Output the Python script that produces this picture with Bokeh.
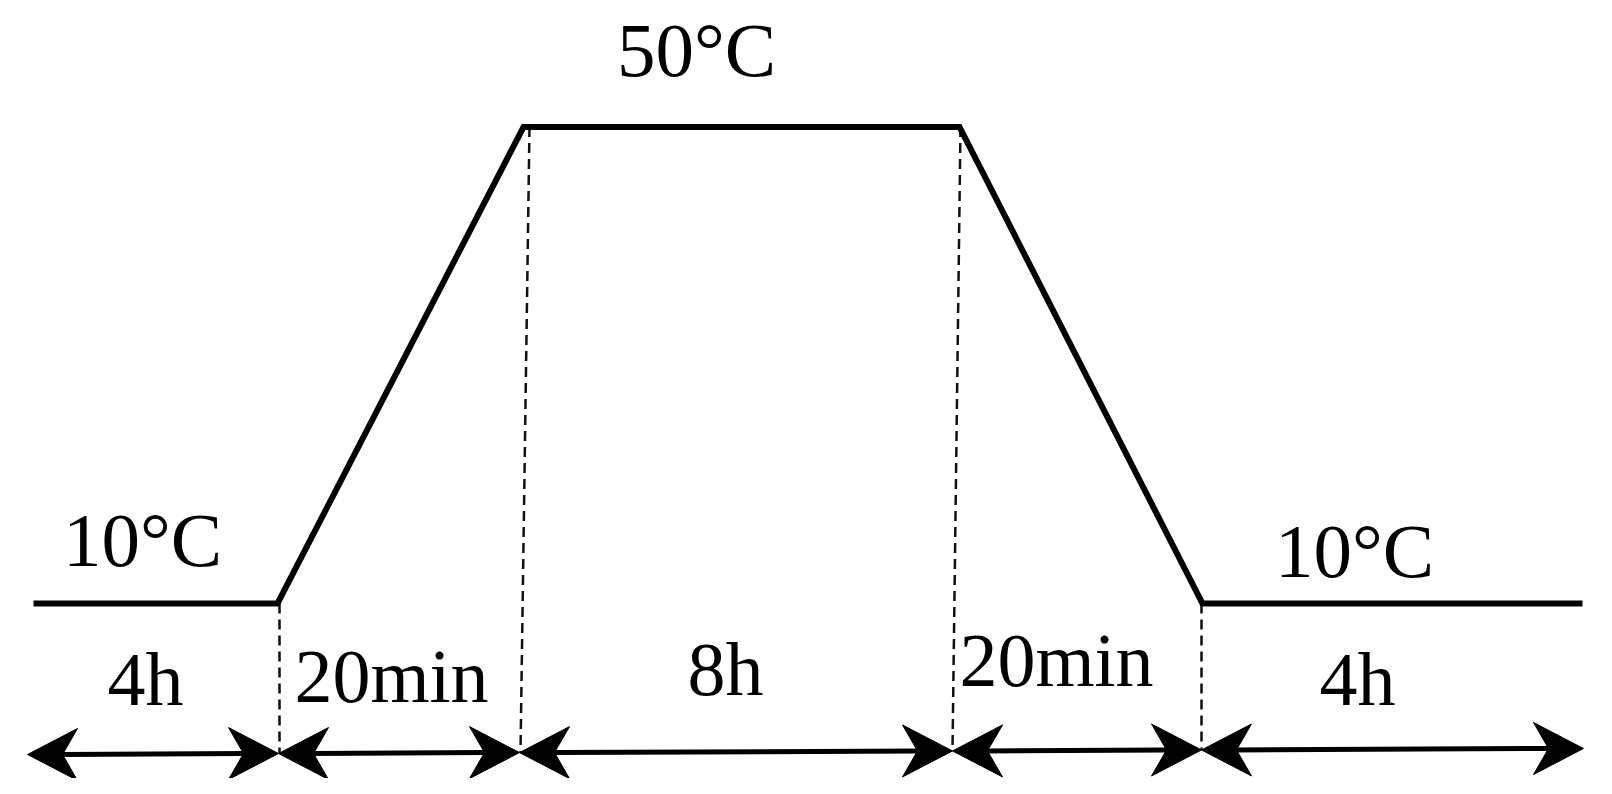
from bokeh.plotting import figure
from bokeh.models import Range1d, ColumnDataSource
from bokeh.core.properties import value
from bokeh.embed import file_html
from bokeh.resources import INLINE

# ---- data (schematic temperature programme) ----
phase_labels = ["4h", "20min", "8h", "20min", "4h"]
temp_labels = ["10°C", "50°C", "10°C"]
profile_x = [33, 277, 523, 959, 1202, 1582]      # schematic time position
profile_temp = [10, 10, 50, 50, 10, 10]          # °C
knot_top_x = [279, 529, 960, 1201]               # dashed guides, at the curve
knot_bottom_x = [279, 520, 952, 1201]            # dashed guides, at the arrow row
knot_temp = [10, 50, 50, 10]
phase_bounds = [27, 278, 519, 952, 1201, 1583]   # arrow row boundaries

# ---- layout helpers (pixel placement of annotations) ----
W, H = 1596, 778
T_LOW_PX, T_HIGH_PX = 603.0, 126.5
PX_PER_DEG = (T_LOW_PX - T_HIGH_PX) / 40.0


def ty(page_y):
    return 10 - (page_y - T_LOW_PX) / PX_PER_DEG


p = figure(width=W, height=H, output_backend="svg", toolbar_location=None,
           x_range=Range1d(0, W), y_range=Range1d(ty(H), ty(0)),
           min_border=0, outline_line_color=None)
p.axis.visible = False
p.xgrid.visible = False
p.ygrid.visible = False
p.background_fill_color = "white"
p.border_fill_color = "white"

row_left, row_right = 754.0, 748.0


def row_y(x):
    return row_left + (row_right - row_left) * (x - phase_bounds[0]) / (phase_bounds[-1] - phase_bounds[0])


# dashed vertical guides
for xt, xb, t in zip(knot_top_x, knot_bottom_x, knot_temp):
    p.line([xt, xb], [t, ty(row_y(xb))], line_color="#111111", line_width=2.5, line_dash="10 6")

# temperature profile
p.line(profile_x, profile_temp, line_color="black", line_width=6, line_join="miter")

# double-headed arrows for each phase (notched heads)
HEAD_L, HEAD_W, HEAD_N = 50.0, 52.0, 35.0
hw = HEAD_W / 2 / PX_PER_DEG
seg_x0, seg_x1, seg_y0, seg_y1 = [], [], [], []
head_xs, head_ys = [], []
for a, b in zip(phase_bounds[:-1], phase_bounds[1:]):
    ya, yb = ty(row_y(a) ), ty(row_y(b))
    seg_x0.append(a + HEAD_N); seg_x1.append(b - HEAD_N)
    seg_y0.append(ya); seg_y1.append(yb)
    head_xs.append([a, a + HEAD_L, a + HEAD_N, a + HEAD_L])
    head_ys.append([ya, ya + hw, ya, ya - hw])
    head_xs.append([b, b - HEAD_L, b - HEAD_N, b - HEAD_L])
    head_ys.append([yb, yb + hw, yb, yb - hw])

p.segment(seg_x0, seg_y0, seg_x1, seg_y1, line_color="black", line_width=5)
p.patches(head_xs, head_ys, fill_color="black", line_color="black", line_width=1)

font = value("Liberation Serif")
MID = 26  # distance from baseline to digit centre, px

temp_src = ColumnDataSource(dict(
    x=[142, 696, 1354],
    y=[ty(565 - MID), ty(75 - MID), ty(576 - MID)],
    t=temp_labels))
p.text("x", "y", text="t", source=temp_src, text_font=font, text_font_size="77px",
       text_align="center", text_baseline="middle", text_color="black")

phase_src = ColumnDataSource(dict(
    x=[145, 391, 725, 1056, 1357],
    y=[ty(704 - MID), ty(701 - MID), ty(694 - MID), ty(685 - MID), ty(704 - MID)],
    t=phase_labels))
p.text("x", "y", text="t", source=phase_src, text_font=font, text_font_size="76px",
       text_align="center", text_baseline="middle", text_color="black")

open("out.html", "w").write(file_html(p, INLINE))
